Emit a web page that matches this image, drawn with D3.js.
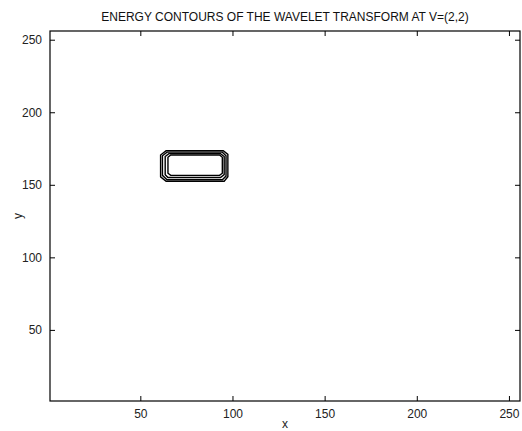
<!DOCTYPE html>
<html>
<head>
<meta charset="utf-8">
<script src="https://cdn.jsdelivr.net/npm/d3@7"></script>
<style>
  body { margin: 0; background: #fff; }
  svg { display: block; font-family: "Liberation Sans", Arial, sans-serif; }
</style>
</head>
<body>
<svg width="522" height="431"></svg>
<script>
const width = 522;
const height = 431;
const margin = { top: 31, right: 2, bottom: 30, left: 50 };

const title = "ENERGY CONTOURS OF THE WAVELET TRANSFORM AT V=(2,2)";
const x_ticks = [50, 100, 150, 200, 250];
const y_ticks = [50, 100, 150, 200, 250];

// contour rings (data coords)
const ring_outer = [[64,173.5],[95,173.5],[97.5,171],[97.5,155.5],[95.5,152.5],[64,152.5],[61,155.5],[61,170.5]];
const ring_2 = [[64.5,172.5],[94.5,172.5],[96.5,170],[96.5,156],[94.5,153.5],[64.5,153.5],[62,156.5],[62,170]];
const ring_3 = [[65.5,171.5],[93.5,171.5],[95.5,169.5],[95.5,157],[93.5,155],[65,155],[63.5,157],[63.5,169.5]];
const ring_inner = [[66.5,170.5],[93,170.5],[94.5,169],[94.5,158],[93,156.5],[66.5,156.5],[65,158],[65,169]];
const rings = [ring_outer, ring_2, ring_3, ring_inner];

const svg = d3.select("svg");

const x = d3.scaleLinear([1, 256], [margin.left, width - margin.right]);
const y = d3.scaleLinear([1, 256], [height - margin.bottom, margin.top]);

const tick_len = 5;
const axis_font = 12;

// contours
const line = d3.line()
  .x(d => x(d[0]))
  .y(d => y(d[1]))
  .curve(d3.curveLinearClosed);

svg.append("g")
  .selectAll("path")
  .data(rings)
  .join("path")
    .attr("fill", "none")
    .attr("stroke", "#000")
    .attr("stroke-width", 1.4)
    .attr("d", line);

// axes: ticks pointing inward, mirrored on top/right
const axis_bottom = d3.axisBottom(x).tickValues(x_ticks).tickSizeInner(-tick_len).tickSizeOuter(0).tickPadding(8);
const axis_left = d3.axisLeft(y).tickValues(y_ticks).tickSizeInner(-tick_len).tickSizeOuter(0).tickPadding(8);
const axis_top = d3.axisTop(x).tickValues(x_ticks).tickSizeInner(-tick_len).tickSizeOuter(0).tickFormat("");
const axis_right = d3.axisRight(y).tickValues(y_ticks).tickSizeInner(-tick_len).tickSizeOuter(0).tickFormat("");

const ax = [
  [axis_bottom, `translate(0,${height - margin.bottom})`],
  [axis_left, `translate(${margin.left},0)`],
  [axis_top, `translate(0,${margin.top})`],
  [axis_right, `translate(${width - margin.right},0)`]
];
ax.forEach(([a, t]) => {
  const g = svg.append("g").attr("transform", t).call(a);
  g.select(".domain").remove();
  g.selectAll("line").attr("stroke", "#000");
  g.selectAll("text")
    .attr("fill", "#222")
    .style("font-size", axis_font + "px")
    .style("font-family", "'Liberation Sans', Arial, sans-serif");
});

// box
svg.append("rect")
  .attr("x", margin.left)
  .attr("y", margin.top)
  .attr("width", width - margin.left - margin.right)
  .attr("height", height - margin.top - margin.bottom)
  .attr("fill", "none")
  .attr("stroke", "#000")
  .attr("stroke-width", 1.2);

// labels
svg.append("text")
  .attr("x", (margin.left + width - margin.right) / 2)
  .attr("y", 21)
  .attr("text-anchor", "middle")
  .attr("fill", "#111")
  .style("font-size", "12px")
  .text(title);

svg.append("text")
  .attr("x", (margin.left + width - margin.right) / 2)
  .attr("y", 428)
  .attr("text-anchor", "middle")
  .attr("fill", "#222")
  .style("font-size", "12px")
  .text("x");

svg.append("text")
  .attr("transform", `translate(22,${(margin.top + height - margin.bottom) / 2}) rotate(-90)`)
  .attr("text-anchor", "middle")
  .attr("fill", "#222")
  .style("font-size", "12px")
  .text("y");
</script>
</body>
</html>
